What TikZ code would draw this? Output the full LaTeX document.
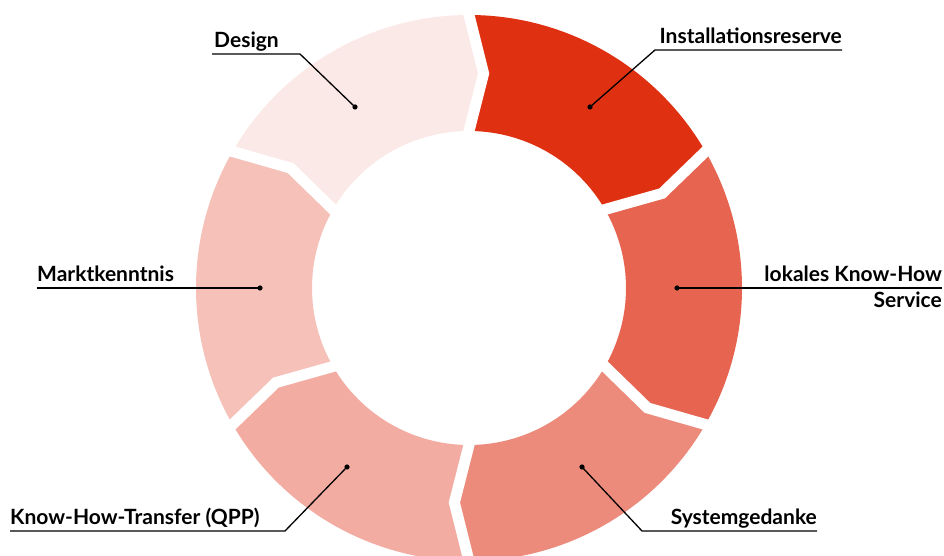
\documentclass[tikz,border=0pt]{standalone}
\usepackage{fontspec}
\setmainfont{Lato}
\usetikzlibrary{calc}
\definecolor{cInst}{HTML}{E03012}
\definecolor{cDes}{HTML}{FBE9E7}
\definecolor{cMark}{HTML}{F5C1B8}
\definecolor{cKHT}{HTML}{F2ACA1}
\definecolor{cSys}{HTML}{EC8B7B}
\definecolor{cLok}{HTML}{E66450}
\tikzset{
  lbl/.style={font=\fontsize{21}{24}\selectfont\bfseries, text=black, inner sep=0pt},
  leader/.style={draw=black, line width=1.3pt},
  dotmark/.style={fill=black},
  gapline/.style={draw=white, line width=11pt, line cap=rect, line join=miter}
}
\begin{document}
\begin{tikzpicture}[x=1pt,y=1pt]
\useasboundingbox (0,0) rectangle (944,556);
\coordinate (C) at (469,268);
% segments
\foreach \a/\c in {30/cInst, 90/cDes, 150/cMark, 210/cKHT, 270/cSys, 330/cLok}{
  \pgfmathsetmacro{\b}{\a+60}
  \fill[\c] ($(C)+(\a:273pt)$) arc[start angle=\a, end angle=\b, radius=273pt]
    -- ($(C)+(\b-3.9:215pt)$) -- ($(C)+(\b:157pt)$)
    arc[start angle=\b, end angle=\a, radius=157pt]
    -- ($(C)+(\a-3.9:215pt)$) -- cycle;
}
% gaps
\foreach \t in {30,90,150,210,270,330}{
  \draw[gapline] ($(C)+(\t:273pt)$) -- ($(C)+(\t-3.9:215pt)$) -- ($(C)+(\t:157pt)$);
}
% dots
\coordinate (pDes) at (355,449);
\coordinate (pInst) at (590,449);
\coordinate (pLok) at (677,268);
\coordinate (pSys) at (582,89);
\coordinate (pKHT) at (347,89);
\coordinate (pMark) at (260,268);
% labels
\node[lbl, anchor=base west] (tDes) at (214,508.5) {Design};
\node[lbl, anchor=base east] (tInst) at (842,512.5) {Installationsreserve};
\node[lbl, anchor=base east] (tLok) at (942,274.5) {lokales Know-How};
\node[lbl, anchor=base east] (tSvc) at (942,248) {Service};
\node[lbl, anchor=base east] (tSys) at (817,31.5) {Systemgedanke};
\node[lbl, anchor=base west] (tKHT) at (10,31.5) {Know-How-Transfer (QPP)};
\node[lbl, anchor=base west] (tMark) at (37,274.5) {Marktkenntnis};
% leader end points
\coordinate (eDes) at (212,502);
\coordinate (kDes) at (300,502);
\coordinate (eInst) at (842,506);
\coordinate (kInst) at (655,506);
\coordinate (eLok) at (942,268);
\coordinate (eSys) at (817,25);
\coordinate (kSys) at (642,25);
\coordinate (eKHT) at (10,25);
\coordinate (kKHT) at (285,25);
\coordinate (eMark) at (37,268);
% leaders
\draw[leader] (eDes) -- (kDes) -- (pDes);
\draw[leader] (eInst) -- (kInst) -- (pInst);
\draw[leader] (pLok) -- (eLok);
\draw[leader] (eSys) -- (kSys) -- (pSys);
\draw[leader] (eKHT) -- (kKHT) -- (pKHT);
\draw[leader] (eMark) -- (pMark);
\foreach \p in {pDes,pInst,pLok,pSys,pKHT,pMark}{
  \fill[dotmark] (\p) circle (2.6pt);
}
\end{tikzpicture}
\end{document}
